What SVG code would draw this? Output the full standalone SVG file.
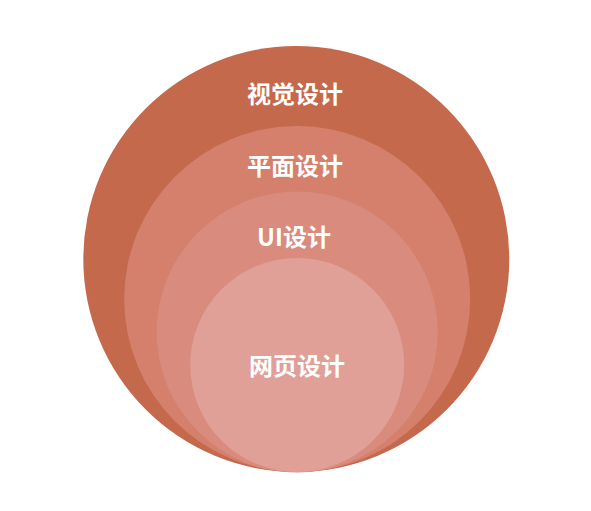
<svg xmlns="http://www.w3.org/2000/svg" width="591" height="511" viewBox="0 0 591 511">
<style>
text{font-family:"Noto Sans CJK SC","Noto Sans",sans-serif;font-weight:bold;font-size:24px;fill:#ffffff;text-anchor:middle;dominant-baseline:central}
</style>
<rect width="591" height="511" fill="#ffffff"/>
<g id="visual"><circle cx="296.3" cy="259" r="213" fill="#C4694C"/><text x="295" y="92">视觉设计</text></g>
<g id="graphic"><circle cx="297.2" cy="299" r="173" fill="#D4806C"/><text x="295" y="164">平面设计</text></g>
<g id="ui"><circle cx="297.2" cy="332" r="140.5" fill="#D98B7E"/><text x="294" y="235">UI设计</text></g>
<g id="web"><circle cx="297.2" cy="365" r="107" fill="#E0A097"/><text x="297" y="364">网页设计</text></g>
<g id="connectors"></g>
</svg>
